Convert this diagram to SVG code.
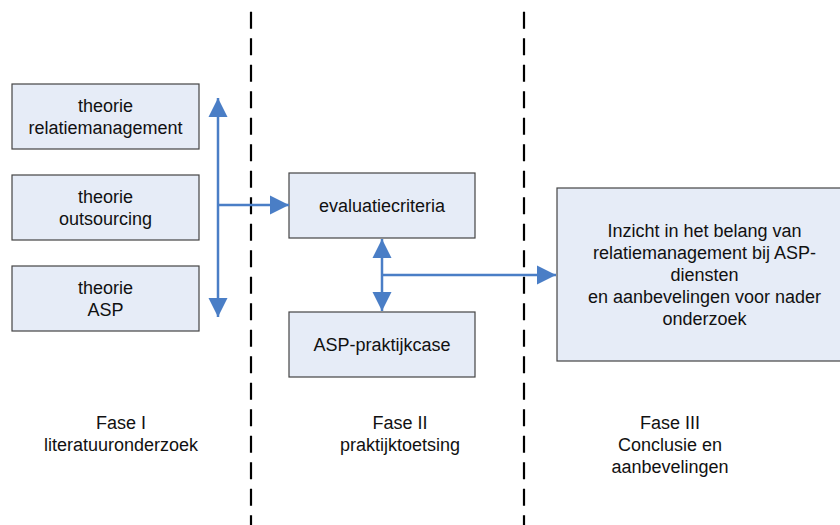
<svg xmlns="http://www.w3.org/2000/svg" width="840" height="525" viewBox="0 0 840 525">
<style>
.box{fill:#E6ECF7;stroke:#444;stroke-width:1.2}
.t{font-family:"Liberation Sans",Arial,sans-serif;font-size:18px;fill:#111;text-anchor:middle}
.dash{stroke:#000;stroke-width:2.2;stroke-dasharray:17 9.5;fill:none}
.con{stroke:#4A7EC6;stroke-width:2.5;fill:none}
</style>
<defs>
<marker id="ah" markerUnits="userSpaceOnUse" markerWidth="20" markerHeight="20" viewBox="0 0 20 20" refX="19" refY="10" orient="auto-start-reverse">
<polygon points="0,0.5 19,10 0,19.5" fill="#4A7EC6"/>
</marker>
</defs>
<g id="dividers">
<line class="dash" x1="251" y1="11.7" x2="251" y2="525"/>
<line class="dash" x1="524" y1="11.7" x2="524" y2="525"/>
</g>
<g id="n1"><rect class="box" x="12" y="84" width="187" height="65"/>
<text class="t" x="105.5" y="111.5">theorie</text><text class="t" x="105.5" y="133.5">relatiemanagement</text></g>
<g id="n2"><rect class="box" x="12" y="175" width="187" height="65"/>
<text class="t" x="105.5" y="202.5">theorie</text><text class="t" x="105.5" y="224.5">outsourcing</text></g>
<g id="n3"><rect class="box" x="12" y="266" width="187" height="65"/>
<text class="t" x="105.5" y="293.5">theorie</text><text class="t" x="105.5" y="315.5">ASP</text></g>
<g id="n4"><rect class="box" x="289" y="173" width="186" height="65"/>
<text class="t" x="382" y="211.5">evaluatiecriteria</text></g>
<g id="n5"><rect class="box" x="289" y="312" width="186" height="65"/>
<text class="t" x="382" y="350.5">ASP-praktijkcase</text></g>
<g id="n6"><rect class="box" x="557" y="188" width="300" height="173"/>
<text class="t" x="704.5" y="236.5">Inzicht in het belang van</text>
<text class="t" x="704.5" y="258.5">relatiemanagement bij ASP-</text>
<text class="t" x="704.5" y="280.5">diensten</text>
<text class="t" x="704.5" y="302.5">en aanbevelingen voor nader</text>
<text class="t" x="704.5" y="324.5">onderzoek</text></g>
<g id="connectors">
<line class="con" x1="218" y1="98" x2="218" y2="317" marker-start="url(#ah)" marker-end="url(#ah)"/>
<line class="con" x1="218" y1="205" x2="289" y2="205" marker-end="url(#ah)"/>
<line class="con" x1="382" y1="239" x2="382" y2="311" marker-start="url(#ah)" marker-end="url(#ah)"/>
<line class="con" x1="382" y1="275" x2="556" y2="275" marker-end="url(#ah)"/>
</g>
<g id="labels">
<text class="t" x="121" y="429">Fase I</text><text class="t" x="121" y="451">literatuuronderzoek</text>
<text class="t" x="400" y="429">Fase II</text><text class="t" x="400" y="451">praktijktoetsing</text>
<text class="t" x="670" y="429">Fase III</text><text class="t" x="670" y="451">Conclusie en</text><text class="t" x="670" y="473">aanbevelingen</text>
</g>
</svg>
